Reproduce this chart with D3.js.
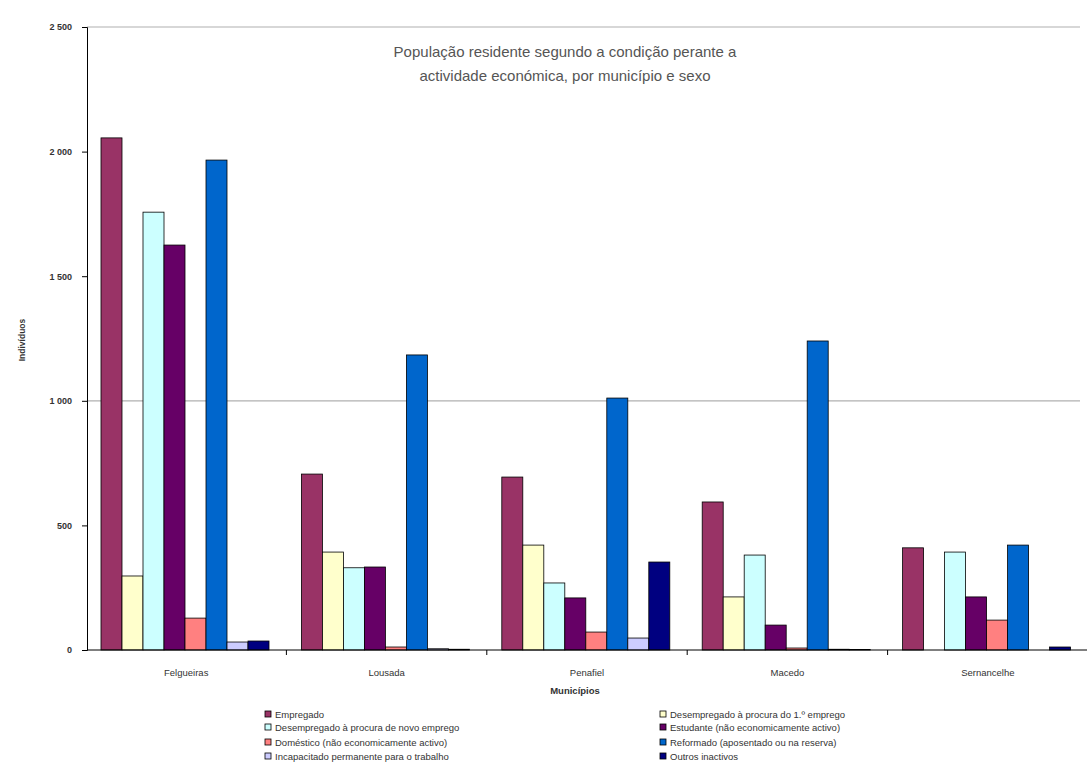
<!DOCTYPE html>
<html><head><meta charset="utf-8">
<script src="https://cdn.jsdelivr.net/npm/d3@7"></script>
<style>body{margin:0;background:#fff;} text{font-family:Arial, "Liberation Sans", sans-serif;}</style>
</head><body>
<svg id="c" width="1087" height="767"></svg>
<script>
const categories = ["Felgueiras","Lousada","Penafiel","Macedo","Sernancelhe"];
const seriesNames = [
 "Empregado",
 "Desempregado à procura do 1.º emprego",
 "Desempregado à procura de novo emprego",
 "Estudante (não economicamente activo)",
 "Doméstico (não economicamente activo)",
 "Reformado (aposentado ou na reserva)",
 "Incapacitado permanente para o trabalho",
 "Outros inactivos"
];
const seriesColors = ["#993366","#FFFFCC","#CCFFFF","#660066","#FF8080","#0066CC","#CCCCFF","#000080"];
const values = [
 [2055, 297, 1757, 1625, 128, 1966, 32, 36],
 [706, 393, 330, 333, 12, 1184, 5, 3],
 [694, 421, 269, 209, 72, 1011, 48, 353],
 [594, 213, 381, 100, 8, 1240, 3, 2],
 [410, 0, 393, 213, 120, 421, 0, 12]
];
const yTicks = [0, 500, 1000, 1500, 2000, 2500];
const gridValues = [1000, 2500];
const titleLines = ["População residente segundo a condição perante a","actividade económica, por município e sexo"];
const xTitle = "Municípios";
const yTitle = "Indivíduos";

const svg = d3.select("#c");
const y = d3.scaleLinear().domain([0, 2500]).range([650, 27]);
const x0 = d3.scaleBand().domain(categories).range([86, 1088]);
const x1 = d3.scaleBand().domain(d3.range(seriesNames.length)).range([15, 183]);

// gridlines
svg.append("g").selectAll("line").data(gridValues).join("line")
  .attr("x1", 87).attr("x2", 1080).attr("y1", d => y(d)).attr("y2", d => y(d))
  .attr("stroke", "#b0b0b0").attr("stroke-width", 1.2);

// bars
const g = svg.append("g").selectAll("g").data(categories).join("g")
  .attr("transform", d => `translate(${x0(d)},0)`);
g.selectAll("rect").data((d, i) => values[i].map((v, j) => ({v, j}))).join("rect")
  .attr("x", d => x1(d.j)).attr("width", x1.bandwidth())
  .attr("y", d => y(d.v)).attr("height", d => y(0) - y(d.v))
  .attr("fill", d => seriesColors[d.j])
  .attr("stroke", "#000").attr("stroke-width", 0.8);

// y axis
const ya = svg.append("g").attr("transform", "translate(87,0)")
  .call(d3.axisLeft(y).tickValues(yTicks).tickSize(5).tickPadding(10)
    .tickFormat(d => d3.format(",")(d).replace(/,/g, " ")));
ya.select(".domain").attr("stroke", "#000");
ya.selectAll("text").attr("font-size", 9).attr("font-weight", "bold").attr("fill", "#333");

// x axis
const xa = svg.append("g").attr("transform", "translate(0,650)")
  .call(d3.axisBottom(x0).tickSize(0));
xa.select(".domain").attr("stroke", "#000").attr("d", "M87,0H1087");
xa.selectAll("text").attr("font-size", 9.5).attr("fill", "#333").attr("dy", "2.4em");
// group boundary ticks
svg.append("g").selectAll("line").data(categories.slice(1)).join("line")
  .attr("x1", d => x0(d)).attr("x2", d => x0(d)).attr("y1", 650).attr("y2", 655)
  .attr("stroke", "#000");

// titles
svg.append("g").selectAll("text").data(titleLines).join("text")
  .attr("x", 565).attr("y", (d, i) => 57 + i * 24).attr("text-anchor", "middle")
  .attr("font-size", 15).attr("fill", "#555").text(d => d);
svg.append("text").attr("x", 575).attr("y", 694).attr("text-anchor", "middle")
  .attr("font-size", 9.5).attr("font-weight", "bold").attr("fill", "#333").text(xTitle);
svg.append("text").attr("transform", "translate(25,340) rotate(-90)").attr("text-anchor", "middle")
  .attr("font-size", 8.5).attr("font-weight", "bold").attr("fill", "#333").text(yTitle);

// legend
const rowsY = [718, 731, 746, 760];
const leg = svg.append("g").selectAll("g").data(seriesNames).join("g")
  .attr("transform", (d, i) => `translate(${i % 2 === 0 ? 265 : 660},${rowsY[Math.floor(i / 2)]})`);
leg.append("rect").attr("x", 0).attr("y", -7).attr("width", 6).attr("height", 6)
  .attr("fill", (d, i) => seriesColors[i]).attr("stroke", "#000").attr("stroke-width", 0.8);
leg.append("text").attr("x", 10).attr("y", 0).attr("font-size", 9.5).attr("fill", "#333").text(d => d);
</script>
</body></html>
